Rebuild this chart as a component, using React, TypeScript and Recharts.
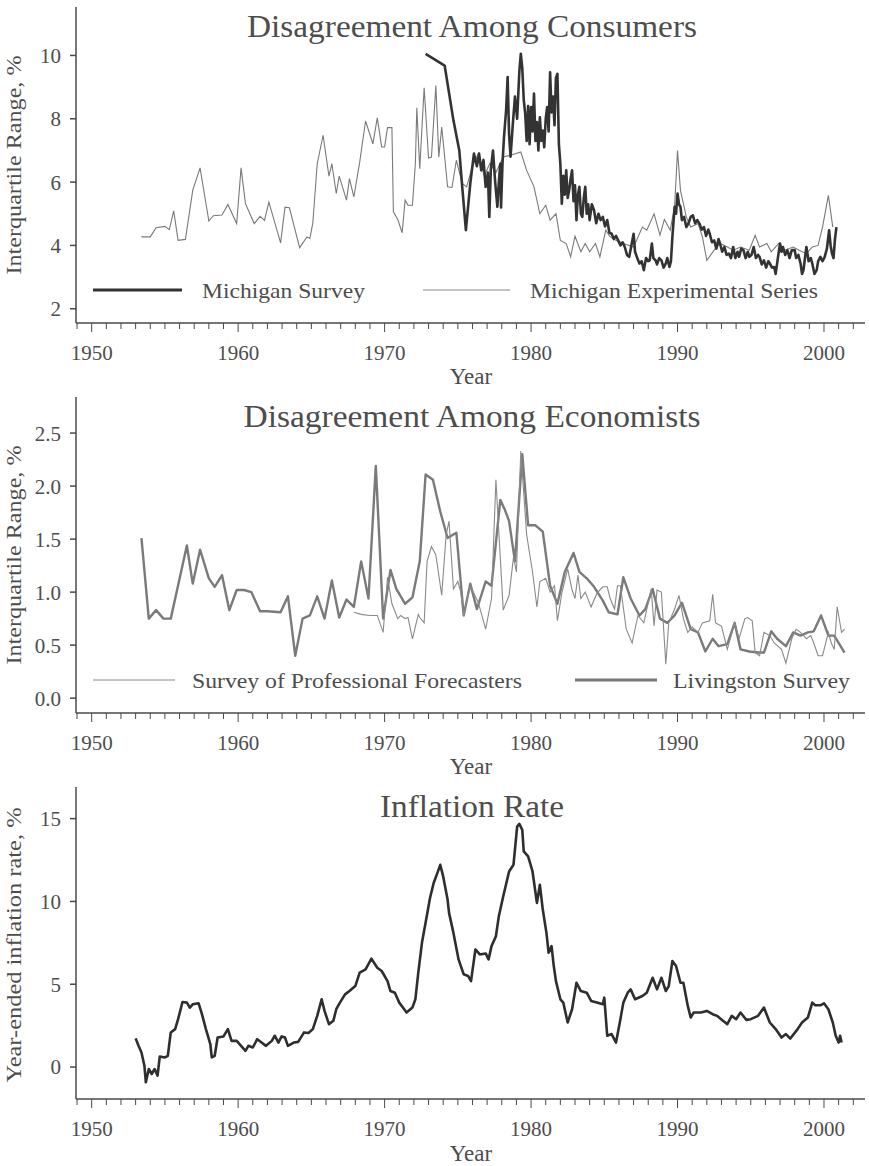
import React from "react";
import { LineChart, Line, XAxis, YAxis, Customized } from "recharts";

const FONT = '"Liberation Serif", "Times New Roman", serif';
const AXIS = "#4a4a4a";
const TEXT = "#4d4d4d";

// x axis: a tick every year, labels every decade
const decadeLabels = [1950, 1960, 1970, 1980, 1990, 2000];
const yearTicks = Array.from({ length: 54 }, (_, i) => 1949 + i);
const xDomain = [1948.93, 2002.8];

// Disagreement among consumers
const michSurvey: [number, number][] = [
  [1972.8, 10.05], [1974.1, 9.68], [1974.7, 7.95], [1975.1, 7.0], [1975.3, 5.85], [1975.55, 4.48],
  [1975.85, 5.95], [1976.1, 6.9], [1976.3, 6.5], [1976.45, 6.9], [1976.6, 6.37], [1976.75, 6.7],
  [1976.9, 5.85], [1977.05, 6.3], [1977.15, 4.9], [1977.25, 6.37], [1977.4, 7.0], [1977.55, 6.0],
  [1977.7, 5.22], [1977.8, 6.0], [1977.9, 6.58], [1977.95, 5.2], [1978.05, 6.6], [1978.15, 7.4],
  [1978.3, 8.3], [1978.4, 9.32], [1978.5, 7.5], [1978.6, 6.8], [1978.75, 7.8], [1978.9, 8.7],
  [1979.05, 8.0], [1979.2, 9.5], [1979.3, 10.05], [1979.4, 9.6], [1979.5, 8.6], [1979.6, 8.16],
  [1979.7, 7.3], [1979.8, 8.4], [1979.9, 7.2], [1980.0, 8.37], [1980.1, 7.6], [1980.2, 8.8],
  [1980.3, 7.3], [1980.4, 7.9], [1980.5, 7.0], [1980.6, 8.05], [1980.7, 7.3], [1980.8, 7.63],
  [1980.9, 7.1], [1981.0, 8.0], [1981.1, 8.37], [1981.2, 7.6], [1981.3, 9.47], [1981.4, 8.2],
  [1981.5, 8.7], [1981.6, 7.8], [1981.7, 9.3], [1981.8, 9.42], [1981.9, 7.2], [1982.0, 6.58],
  [1982.1, 5.32], [1982.2, 6.2], [1982.3, 5.6], [1982.4, 6.37], [1982.5, 5.5], [1982.6, 5.74],
  [1982.7, 6.1], [1982.8, 6.37], [1982.9, 5.4], [1983.0, 5.9], [1983.1, 4.8], [1983.2, 5.6],
  [1983.3, 5.85], [1983.4, 5.0], [1983.5, 4.9], [1983.6, 5.5], [1983.7, 5.85], [1983.8, 5.0],
  [1983.9, 5.3], [1984.0, 4.8], [1984.15, 5.3], [1984.3, 5.11], [1984.45, 4.7], [1984.6, 5.0],
  [1984.75, 4.8], [1984.9, 4.9], [1985.05, 4.6], [1985.2, 4.8], [1985.35, 4.4], [1985.5, 4.37],
  [1985.65, 4.2], [1985.8, 4.3], [1985.95, 4.16], [1986.1, 4.0], [1986.25, 4.1], [1986.4, 3.95],
  [1986.55, 3.7], [1986.7, 3.64], [1986.85, 4.0], [1987.0, 4.37], [1987.1, 3.8], [1987.25, 3.6],
  [1987.4, 3.43], [1987.55, 3.5], [1987.7, 3.22], [1987.85, 3.6], [1988.0, 3.5], [1988.1, 3.53],
  [1988.25, 4.06], [1988.35, 3.6], [1988.5, 3.53], [1988.6, 3.4], [1988.75, 3.6], [1988.9, 3.53],
  [1989.05, 3.3], [1989.2, 3.43], [1989.3, 3.6], [1989.45, 3.32], [1989.55, 3.5], [1989.65, 4.27],
  [1989.8, 5.22], [1989.9, 5.0], [1990.0, 5.64], [1990.1, 5.3], [1990.2, 5.22], [1990.3, 4.8],
  [1990.45, 4.9], [1990.6, 4.58], [1990.75, 4.7], [1990.9, 4.9], [1991.05, 4.95], [1991.2, 4.7],
  [1991.35, 4.8], [1991.5, 4.69], [1991.65, 4.5], [1991.8, 4.58], [1991.95, 4.3], [1992.1, 4.5],
  [1992.2, 4.37], [1992.35, 4.1], [1992.5, 4.16], [1992.65, 3.9], [1992.8, 4.2], [1992.9, 4.06],
  [1993.05, 3.8], [1993.2, 3.95], [1993.35, 3.7], [1993.5, 3.74], [1993.65, 3.6], [1993.8, 3.95],
  [1993.95, 3.6], [1994.1, 3.8], [1994.2, 3.64], [1994.35, 3.9], [1994.5, 3.85], [1994.65, 3.6],
  [1994.8, 3.8], [1994.9, 3.64], [1995.05, 3.7], [1995.2, 3.95], [1995.35, 3.6], [1995.5, 3.7],
  [1995.6, 3.64], [1995.75, 3.4], [1995.9, 3.53], [1996.05, 3.3], [1996.2, 3.5], [1996.3, 3.43],
  [1996.45, 3.3], [1996.6, 3.32], [1996.7, 3.1], [1996.85, 3.6], [1997.0, 4.06], [1997.1, 3.8],
  [1997.2, 3.95], [1997.35, 3.7], [1997.5, 3.85], [1997.65, 3.6], [1997.8, 3.85], [1998.0, 3.85],
  [1998.1, 3.6], [1998.25, 3.7], [1998.4, 3.43], [1998.5, 3.1], [1998.6, 3.22], [1998.7, 3.6],
  [1998.8, 3.95], [1998.95, 3.5], [1999.1, 3.6], [1999.2, 3.43], [1999.35, 3.1], [1999.5, 3.22],
  [1999.6, 3.5], [1999.75, 3.64], [1999.9, 3.5], [2000.05, 3.64], [2000.2, 3.9], [2000.35, 4.48],
  [2000.45, 4.0], [2000.55, 3.74], [2000.65, 3.6], [2000.75, 4.2], [2000.85, 4.58],
];

const michExperimental: [number, number][] = [
  [1953.4, 4.27], [1954.0, 4.27], [1954.4, 4.56], [1955.0, 4.6], [1955.3, 4.5], [1955.6, 5.09],
  [1955.9, 4.16], [1956.4, 4.19], [1956.9, 5.74], [1957.4, 6.45], [1958.0, 4.77], [1958.3, 4.94],
  [1958.9, 4.96], [1959.3, 5.29], [1959.9, 4.69], [1960.2, 6.45], [1960.5, 5.32], [1961.1, 4.69],
  [1961.5, 4.92], [1961.8, 4.79], [1962.1, 5.37], [1962.9, 4.08], [1963.2, 5.21], [1963.5, 5.19],
  [1964.2, 3.93], [1964.7, 4.27], [1964.9, 4.22], [1965.1, 4.71], [1965.4, 6.58], [1965.8, 7.48],
  [1966.2, 6.19], [1966.4, 6.58], [1966.7, 5.64], [1966.9, 6.19], [1967.4, 5.43], [1967.6, 6.11],
  [1967.9, 5.53], [1968.3, 6.63], [1968.7, 7.93], [1969.2, 7.21], [1969.5, 8.03], [1969.8, 7.11],
  [1970.0, 7.11], [1970.2, 7.72], [1970.5, 7.72], [1970.6, 5.06], [1970.9, 4.82], [1971.2, 4.4],
  [1971.4, 5.43], [1971.6, 5.27], [1971.9, 5.27], [1972.1, 6.58], [1972.2, 8.35], [1972.4, 6.42],
  [1972.7, 8.98], [1973.0, 6.76], [1973.2, 6.79], [1973.5, 9.05], [1973.7, 6.79], [1973.9, 7.74],
  [1974.3, 5.85], [1974.6, 5.83], [1974.9, 6.69], [1975.3, 5.96], [1975.6, 5.85], [1976.0, 6.5],
  [1976.4, 6.9], [1976.8, 6.2], [1977.2, 6.6], [1977.6, 6.3], [1978.1, 6.79], [1978.6, 6.85],
  [1979.3, 6.95], [1979.7, 6.37], [1980.2, 5.85], [1980.6, 5.0], [1981.0, 5.27], [1981.3, 4.8],
  [1981.7, 5.0], [1982.0, 4.16], [1982.4, 4.06], [1982.7, 3.64], [1983.0, 4.29], [1983.4, 3.8],
  [1983.7, 4.06], [1984.0, 3.8], [1984.4, 4.06], [1984.7, 3.64], [1985.1, 4.48], [1985.4, 4.27],
  [1985.8, 4.16], [1986.3, 4.06], [1987.0, 3.95], [1987.6, 4.58], [1987.9, 4.48], [1988.4, 5.0],
  [1988.8, 4.32], [1989.1, 4.82], [1989.5, 4.48], [1989.8, 5.22], [1990.0, 7.0], [1990.2, 5.74],
  [1990.6, 4.9], [1990.9, 4.58], [1991.4, 4.69], [1991.7, 4.27], [1992.0, 3.53], [1992.5, 3.85],
  [1992.9, 4.06], [1993.4, 3.95], [1993.8, 3.85], [1994.3, 3.95], [1994.9, 3.85], [1995.3, 4.32],
  [1995.6, 3.95], [1996.1, 4.06], [1996.4, 3.8], [1996.9, 4.06], [1997.3, 3.85], [1997.9, 3.95],
  [1998.3, 3.85], [1998.8, 3.74], [1999.2, 3.95], [1999.6, 4.0], [1999.9, 4.58], [2000.3, 5.58],
  [2000.6, 4.58],
];

// Disagreement among economists
const livingston: [number, number][] = [
  [1953.4, 1.51], [1953.9, 0.75], [1954.4, 0.83], [1954.9, 0.75], [1955.4, 0.75], [1956.5, 1.44],
  [1956.9, 1.08], [1957.4, 1.4], [1958.0, 1.13], [1958.4, 1.05], [1958.9, 1.16], [1959.4, 0.83],
  [1959.9, 1.02], [1960.4, 1.02], [1960.9, 1.0], [1961.5, 0.82], [1962.0, 0.82], [1962.9, 0.81],
  [1963.4, 0.96], [1963.9, 0.4], [1964.4, 0.75], [1964.9, 0.78], [1965.4, 0.96], [1965.9, 0.75],
  [1966.4, 1.11], [1966.9, 0.76], [1967.4, 0.93], [1967.9, 0.86], [1968.4, 1.29], [1968.9, 0.94],
  [1969.4, 2.19], [1969.9, 0.75], [1970.4, 1.21], [1970.8, 1.03], [1971.4, 0.89], [1971.9, 0.95],
  [1972.4, 1.29], [1972.8, 2.11], [1973.3, 2.06], [1973.8, 1.76], [1974.3, 1.51], [1974.9, 1.56],
  [1975.4, 0.78], [1975.85, 1.08], [1976.3, 0.84], [1976.9, 1.1], [1977.3, 1.06], [1977.9, 1.87],
  [1978.2, 1.78], [1978.5, 1.67], [1978.9, 1.29], [1979.4, 2.3], [1979.8, 1.63], [1980.3, 1.63],
  [1980.8, 1.57], [1981.3, 1.06], [1981.8, 0.89], [1982.3, 1.19], [1982.9, 1.37], [1983.3, 1.19],
  [1983.8, 1.13], [1984.3, 1.05], [1984.9, 0.92], [1985.3, 0.81], [1985.9, 0.79], [1986.3, 1.14],
  [1986.8, 0.94], [1987.4, 0.78], [1987.8, 0.84], [1988.3, 1.03], [1988.8, 0.75], [1989.3, 0.71],
  [1989.8, 0.78], [1990.3, 0.9], [1990.9, 0.65], [1991.4, 0.62], [1991.9, 0.44], [1992.4, 0.56],
  [1992.8, 0.49], [1993.4, 0.51], [1993.9, 0.71], [1994.3, 0.46], [1994.9, 0.44], [1995.5, 0.43],
  [1995.9, 0.43], [1996.4, 0.63], [1996.8, 0.56], [1997.4, 0.49], [1997.9, 0.62], [1998.4, 0.59],
  [1998.9, 0.62], [1999.3, 0.63], [1999.8, 0.78], [2000.3, 0.59], [2000.7, 0.59], [2001.4, 0.43],
];

const spf: [number, number][] = [
  [1967.9, 0.81], [1968.4, 0.79], [1969.0, 0.78], [1969.5, 0.78], [1969.9, 0.62], [1970.2, 1.14],
  [1970.5, 0.89], [1970.9, 0.75], [1971.1, 0.78], [1971.4, 0.75], [1971.6, 0.76], [1971.9, 0.56],
  [1972.3, 0.79], [1972.4, 0.76], [1972.7, 0.71], [1972.9, 1.29], [1973.2, 1.43], [1973.5, 1.35],
  [1973.9, 0.97], [1974.2, 1.54], [1974.4, 1.67], [1974.7, 1.03], [1975.0, 1.1], [1975.2, 1.0],
  [1975.4, 0.78], [1975.85, 1.06], [1976.4, 0.9], [1976.9, 0.65], [1977.3, 0.94], [1977.6, 2.06],
  [1978.1, 0.83], [1978.5, 0.97], [1978.8, 1.33], [1979.0, 1.19], [1979.3, 2.33], [1979.7, 1.54],
  [1980.1, 1.19], [1980.4, 0.86], [1980.6, 1.1], [1981.0, 1.13], [1981.3, 1.0], [1981.6, 1.06],
  [1981.8, 0.73], [1982.1, 0.99], [1982.5, 1.22], [1982.8, 1.02], [1983.0, 0.94], [1983.2, 1.16],
  [1983.4, 0.94], [1983.7, 1.0], [1984.1, 0.86], [1984.5, 0.99], [1984.9, 1.05], [1985.2, 1.05],
  [1985.4, 0.94], [1985.7, 0.84], [1985.9, 1.06], [1986.1, 1.06], [1986.5, 0.65], [1986.9, 0.52],
  [1987.3, 0.78], [1987.7, 0.71], [1988.2, 1.03], [1988.4, 0.68], [1988.6, 1.02], [1988.9, 1.0],
  [1989.2, 0.32], [1989.4, 0.71], [1989.8, 0.84], [1990.1, 0.97], [1990.4, 0.75], [1990.7, 0.62],
  [1991.0, 0.67], [1991.4, 0.62], [1991.7, 0.71], [1992.2, 0.73], [1992.4, 0.98], [1992.6, 0.71],
  [1993.0, 0.68], [1993.4, 0.46], [1993.9, 0.71], [1994.2, 0.56], [1994.6, 0.75], [1994.8, 0.76],
  [1995.1, 0.73], [1995.3, 0.43], [1995.6, 0.4], [1995.9, 0.62], [1996.3, 0.59], [1996.6, 0.52],
  [1997.1, 0.46], [1997.4, 0.33], [1997.8, 0.56], [1998.1, 0.65], [1998.4, 0.62], [1998.8, 0.56],
  [1999.1, 0.59], [1999.3, 0.52], [1999.6, 0.4], [1999.9, 0.4], [2000.3, 0.62], [2000.5, 0.52],
  [2000.7, 0.46], [2000.9, 0.86], [2001.2, 0.62], [2001.4, 0.65],
];

// Year-ended inflation rate
const inflation: [number, number][] = [
  [1953.0, 1.73], [1953.2, 1.28], [1953.4, 0.88], [1953.6, 0.08], [1953.7, -0.92], [1953.9, -0.12],
  [1954.1, -0.42], [1954.3, -0.12], [1954.5, -0.52], [1954.65, 0.64], [1955.0, 0.58], [1955.2, 0.68],
  [1955.4, 2.09], [1955.7, 2.29], [1955.9, 2.89], [1956.2, 3.93], [1956.5, 3.89], [1956.7, 3.59],
  [1956.9, 3.79], [1957.3, 3.85], [1957.5, 3.29], [1957.8, 2.29], [1958.1, 1.38], [1958.2, 0.58],
  [1958.4, 0.68], [1958.6, 1.78], [1959.0, 1.85], [1959.3, 2.29], [1959.55, 1.58], [1959.9, 1.58],
  [1960.2, 1.28], [1960.5, 0.98], [1960.7, 1.28], [1961.0, 1.18], [1961.3, 1.68], [1961.6, 1.48],
  [1961.9, 1.28], [1962.3, 1.58], [1962.5, 1.89], [1962.75, 1.48], [1962.97, 1.85], [1963.2, 1.78],
  [1963.4, 1.28], [1963.8, 1.48], [1964.1, 1.52], [1964.5, 2.09], [1964.8, 2.05], [1965.1, 2.29],
  [1965.4, 3.09], [1965.7, 4.09], [1965.9, 3.39], [1966.2, 2.59], [1966.5, 2.79], [1966.7, 3.49],
  [1966.95, 3.89], [1967.3, 4.39], [1967.6, 4.59], [1968.0, 4.89], [1968.3, 5.7], [1968.7, 5.9],
  [1969.1, 6.54], [1969.5, 6.0], [1969.8, 5.8], [1970.2, 5.19], [1970.4, 4.59], [1970.7, 4.49],
  [1971.0, 3.89], [1971.25, 3.59], [1971.5, 3.29], [1971.9, 3.59], [1972.1, 4.09], [1972.3, 5.7],
  [1972.55, 7.5], [1972.9, 9.21], [1973.1, 10.21], [1973.35, 11.11], [1973.6, 11.71], [1973.8, 12.21],
  [1974.0, 11.51], [1974.3, 10.11], [1974.4, 9.31], [1974.7, 8.1], [1975.05, 6.5], [1975.4, 5.6],
  [1975.7, 5.5], [1975.9, 5.19], [1976.2, 7.1], [1976.5, 6.8], [1976.9, 6.86], [1977.1, 6.5],
  [1977.3, 7.3], [1977.6, 7.9], [1977.8, 9.11], [1978.1, 10.31], [1978.5, 11.81], [1978.8, 12.21],
  [1979.05, 14.52], [1979.2, 14.68], [1979.4, 14.32], [1979.5, 13.02], [1979.8, 12.72], [1980.1, 11.81],
  [1980.4, 9.91], [1980.6, 11.01], [1980.8, 9.51], [1981.05, 8.1], [1981.2, 6.9], [1981.4, 7.3],
  [1981.55, 6.1], [1981.7, 5.19], [1982.0, 4.09], [1982.2, 3.89], [1982.5, 2.69], [1982.8, 3.49],
  [1983.1, 5.09], [1983.4, 4.59], [1983.8, 4.49], [1984.1, 3.99], [1984.5, 3.89], [1984.9, 3.79],
  [1985.0, 4.19], [1985.2, 1.89], [1985.5, 1.99], [1985.8, 1.48], [1986.1, 2.89], [1986.3, 3.89],
  [1986.6, 4.49], [1986.8, 4.69], [1987.1, 4.09], [1987.6, 4.29], [1987.9, 4.49], [1988.3, 5.39],
  [1988.6, 4.69], [1988.9, 5.39], [1989.2, 4.59], [1989.4, 4.89], [1989.65, 6.4], [1989.9, 6.1],
  [1990.2, 5.09], [1990.4, 5.09], [1990.7, 3.69], [1990.9, 2.99], [1991.1, 3.29], [1991.6, 3.29],
  [1992.0, 3.39], [1992.4, 3.19], [1992.7, 3.09], [1993.1, 2.79], [1993.4, 2.59], [1993.7, 3.09],
  [1994.0, 2.89], [1994.3, 3.29], [1994.7, 2.85], [1995.0, 2.89], [1995.5, 3.09], [1995.9, 3.59],
  [1996.3, 2.69], [1996.7, 2.29], [1997.1, 1.78], [1997.4, 1.99], [1997.7, 1.72], [1998.2, 2.29],
  [1998.5, 2.69], [1998.9, 2.99], [1999.2, 3.89], [1999.4, 3.73], [1999.75, 3.73], [2000.0, 3.85],
  [2000.3, 3.49], [2000.6, 2.69], [2000.8, 1.89], [2001.0, 1.48], [2001.1, 1.89], [2001.2, 1.48],
];

const rows = (pts: [number, number][]) => pts.map(([t, v]) => ({ t, v }));

const W = 869;
const margin = { top: 7, right: 4, bottom: 7, left: 16 };

function YearTick(props: any) {
  const { x, y, payload } = props;
  const major = decadeLabels.includes(payload.value);
  return (
    <g>
      <line x1={x} x2={x} y1={y} y2={y + (major ? 9 : 6)} stroke={AXIS} strokeWidth={1} />
      {major && (
        <text x={x} y={y + 37} textAnchor="middle" fontSize={21} fontFamily={FONT} fill={TEXT}>
          {payload.value}
        </text>
      )}
    </g>
  );
}

type LegendItem = { x1: number; x2: number; tx: number; tlen: number; label: string; stroke: string; width: number };

function Decor({ title, titleLen, yLabel, yLabelLen, axisY, legend }: {
  title: string; titleLen: number; yLabel: string; yLabelLen: number; axisY: number; legend?: LegendItem[];
}) {
  return (
    <g fontFamily={FONT} fill={TEXT}>
      <text x={472} y={37} fontSize={31} textAnchor="middle" textLength={titleLen} lengthAdjust="spacingAndGlyphs">
        {title}
      </text>
      <text
        x={21}
        y={165}
        fontSize={22}
        textAnchor="middle"
        transform="rotate(-90, 21, 165)"
        textLength={yLabelLen}
        lengthAdjust="spacingAndGlyphs"
      >
        {yLabel}
      </text>
      <text x={471} y={axisY + 61} fontSize={23} textAnchor="middle">Year</text>
      {legend?.map((it) => (
        <g key={it.label}>
          <line x1={it.x1} x2={it.x2} y1={290} y2={290} stroke={it.stroke} strokeWidth={it.width} />
          <text x={it.tx} y={298} fontSize={22} textLength={it.tlen} lengthAdjust="spacingAndGlyphs">
            {it.label}
          </text>
        </g>
      ))}
    </g>
  );
}

function Panel({ top, height, yDomain, yTicks, yFmt, children, decor }: any) {
  return (
    <div style={{ position: "absolute", left: 0, top, width: W, height }}>
      <LineChart width={W} height={height} margin={margin}>
        <XAxis
          dataKey="t"
          type="number"
          domain={xDomain}
          allowDataOverflow
          ticks={yearTicks}
          interval={0}
          tickSize={0}
          tickMargin={0}
          tick={<YearTick />}
          height={60}
          stroke={AXIS}
          strokeWidth={1.5}
        />
        <YAxis
          type="number"
          domain={yDomain}
          allowDataOverflow
          ticks={yTicks}
          interval={0}
          tickFormatter={yFmt}
          width={60}
          tickSize={6}
          tickMargin={9}
          stroke={AXIS}
          strokeWidth={1.5}
          tick={{ fontSize: 21, fontFamily: FONT, fill: TEXT }}
        />
        {children}
        <Customized component={decor} />
      </LineChart>
    </div>
  );
}

export default function App() {
  return (
    <div style={{ position: "absolute", left: 0, top: 0, width: W, height: 1166, background: "#fff" }}>
      <Panel
        top={0}
        height={390}
        yDomain={[1.55, 11.53]}
        yTicks={[2, 4, 6, 8, 10]}
        yFmt={(v: number) => String(v)}
        decor={
          <Decor
            title="Disagreement Among Consumers"
            titleLen={450}
            yLabel="Interquartile Range, %"
            yLabelLen={219}
            axisY={323}
            legend={[
              { x1: 93, x2: 182, tx: 202, tlen: 163, label: "Michigan Survey", stroke: "#333", width: 3 },
              { x1: 423, x2: 510, tx: 530, tlen: 288, label: "Michigan Experimental Series", stroke: "#888", width: 1 },
            ]}
          />
        }
      >
        <Line data={rows(michExperimental)} dataKey="v" stroke="#7a7a7a" strokeWidth={1.1} dot={false} isAnimationActive={false} />
        <Line data={rows(michSurvey)} dataKey="v" stroke="#333" strokeWidth={2.6} strokeLinejoin="round" dot={false} isAnimationActive={false} />
      </Panel>

      <Panel
        top={390}
        height={390}
        yDomain={[-0.14, 2.84]}
        yTicks={[0, 0.5, 1, 1.5, 2, 2.5]}
        yFmt={(v: number) => v.toFixed(1)}
        decor={
          <Decor
            title="Disagreement Among Economists"
            titleLen={457}
            yLabel="Interquartile Range, %"
            yLabelLen={219}
            axisY={323}
            legend={[
              { x1: 93, x2: 175, tx: 192, tlen: 330, label: "Survey of Professional Forecasters", stroke: "#8a8a8a", width: 1 },
              { x1: 575, x2: 657, tx: 673, tlen: 177, label: "Livingston Survey", stroke: "#777", width: 3 },
            ]}
          />
        }
      >
        <Line data={rows(livingston)} dataKey="v" stroke="#7a7a7a" strokeWidth={2.4} strokeLinejoin="round" dot={false} isAnimationActive={false} />
        <Line data={rows(spf)} dataKey="v" stroke="#8a8a8a" strokeWidth={1.1} dot={false} isAnimationActive={false} />
      </Panel>

      <Panel
        top={780}
        height={386}
        yDomain={[-1.93, 16.91]}
        yTicks={[0, 5, 10, 15]}
        yFmt={(v: number) => String(v)}
        decor={
          <Decor
            title="Inflation Rate"
            titleLen={184}
            yLabel="Year-ended inflation rate, %"
            yLabelLen={275}
            axisY={320}
          />
        }
      >
        <Line data={rows(inflation)} dataKey="v" stroke="#2e2e2e" strokeWidth={2.6} strokeLinejoin="round" dot={false} isAnimationActive={false} />
      </Panel>
    </div>
  );
}
